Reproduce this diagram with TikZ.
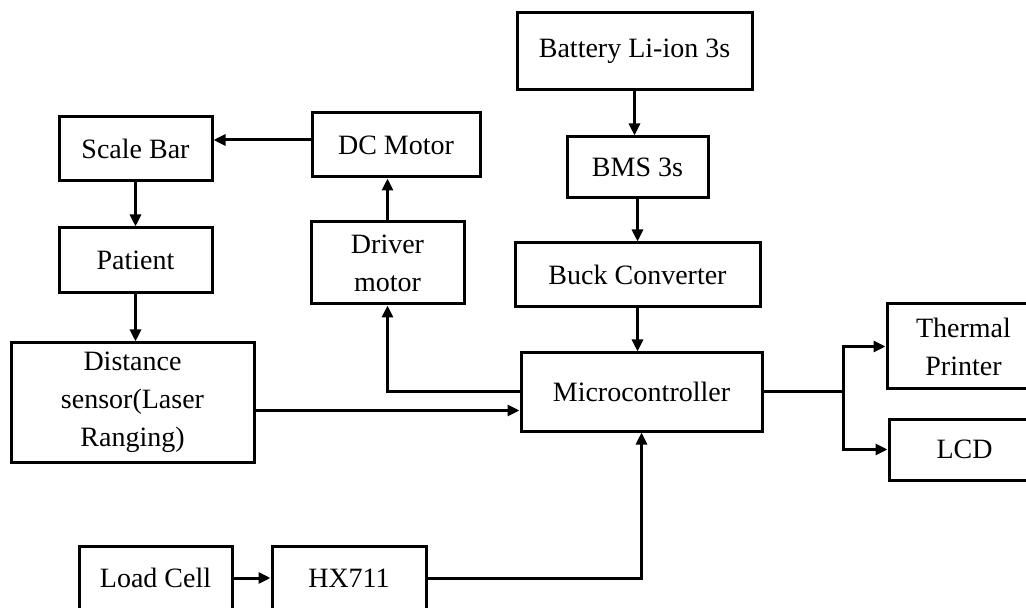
\documentclass[tikz,border=0pt]{standalone}
\usepackage{fontspec}
\setmainfont{Liberation Serif}
\usetikzlibrary{arrows.meta}

\begin{document}
\begin{tikzpicture}[x=0.5pt,y=-0.5pt,
    blk/.style={draw,line width=1.5pt,inner sep=1pt,align=center,
      font=\fontsize{14}{19}\selectfont},
    link/.style={line width=1.5pt,-{Triangle[length=6pt,width=5.5pt]}}]
  \path[use as bounding box] (0,0) rectangle (1026,608);
  \clip (0,0) rectangle (1026,608);
  \foreach \n/\x/\y/\w/\h/\t in {
      bat/634.5/51.5/235/77/{Battery Li-ion 3s},
      bms/637.5/167.5/141/61/{BMS 3s},
      buck/637.5/275/245/64/{Buck Converter},
      mcu/641.5/392/241/78/{Microcontroller},
      dcm/396/145/168/64/{DC Motor},
      drv/387.5/263/153/82/{Driver\\motor},
      scale/135.5/149/153/64/{Scale Bar},
      pat/135.5/260.5/153/65/{Patient},
      dist/132.5/402.5/243/119/{Distance\\sensor(Laser\\Ranging)},
      therm/963.5/346.5/153/85/{Thermal\\Printer},
      lcd/964.5/449.5/151/61/{LCD},
      load/155.5/578/153/64/{Load Cell},
      hx/349/578/154/64/{HX711}}
    {\node[blk,minimum width=\w*0.5pt,minimum height=\h*0.5pt] (\n) at (\x,\y) {\t};}
  \coordinate (split) at (843,392);
  \draw[link] (bat.south) -- (bat.south |- bms.north);
  \draw[link] (bms.south) -- (bms.south |- buck.north);
  \draw[link] (buck.south) -- (buck.south |- mcu.north);
  \draw[link] (drv.north) -- (drv.north |- dcm.south);
  \draw[link] ([yshift=2.5pt]dcm.west) -- ([yshift=2.5pt]dcm.west -| scale.east);
  \draw[link] (scale.south) -- (pat.north);
  \draw[link] (pat.south) -- (pat.south |- dist.north);
  \draw[link] (mcu.west) -| (drv.south);
  \draw[link] ([yshift=-4pt]dist.east) -- ([yshift=-4pt]dist.east -| mcu.west);
  \draw[line width=1.5pt] (mcu.east) -- (split);
  \draw[link] (split) |- (therm.west);
  \draw[link] (split) |- (lcd.west);
  \draw[link] (load.east) -- (hx.west);
  \draw[link] (hx.east) -| (mcu.south);
\end{tikzpicture}
\end{document}
